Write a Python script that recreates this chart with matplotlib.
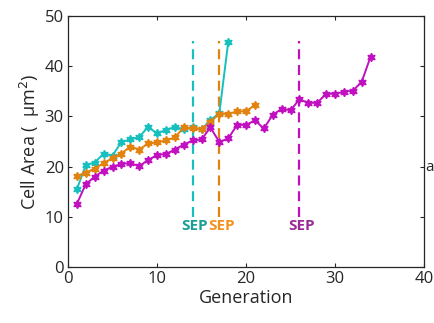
"""
Cell area across generations for three lineages, with SEP markers.
"""
import matplotlib

matplotlib.use("Agg")
import matplotlib.pyplot as plt
import numpy as np

plt.rcParams["font.family"] = ["Open Sans", "DejaVu Sans"]

# cell area (um^2) per generation, one list per lineage
area_cyan = [15.5, 20.3, 20.8, 22.6, 22.2, 24.9, 25.4, 25.9, 27.9, 26.6,
             27.3, 27.9, 27.4, 27.8, 27.4, 29.3, 30.6, 44.8]
area_orange = [18.1, 18.8, 19.6, 20.7, 21.7, 22.6, 24.0, 23.4, 24.6, 24.8,
               25.2, 25.8, 27.8, 27.6, 27.5, 28.9, 30.5, 30.5, 31.0, 31.0, 32.3]
area_magenta = [12.6, 16.5, 18.0, 19.2, 20.0, 20.5, 20.7, 20.1, 21.3, 22.3,
                22.5, 23.4, 24.4, 25.2, 25.4, 27.8, 24.9, 25.6, 28.3, 28.3,
                29.2, 27.6, 30.3, 31.5, 31.2, 33.4, 32.7, 32.7, 34.5, 34.5,
                34.9, 35.1, 36.9, 41.9]

# generation at which each lineage hits SEP
sep_gen = [14, 17, 26]
sep_span = (10, 45)
sep_text_y = 8.2

line_colors = ["#17bfbf", "#e2820f", "#c010c0"]
text_colors = ["#1a9e96", "#f5901e", "#9a2a98"]

fig = plt.figure(figsize=(4.34, 3.23), dpi=100)
ax = fig.add_axes([0.1567, 0.1734, 0.8203, 0.7771])

hexstar = (6, 1, 0)
for y, c in zip([area_cyan, area_orange, area_magenta], line_colors):
    g = np.arange(1, len(y) + 1)
    ax.plot(g, y, color=c, lw=1.4, marker=hexstar, ms=6, mec=c, mfc=c, zorder=3)

for gen, c, tc in zip(sep_gen, line_colors, text_colors):
    ax.plot([gen, gen], sep_span, color=c, lw=1.6, ls=(0, (4.5, 2.6)), zorder=2)
    ax.text(gen + 0.25, sep_text_y, "SEP", color=tc, fontsize=11,
            fontweight="bold", ha="center", va="center")

ax.set_xlim(0, 40)
ax.set_ylim(0, 50)
ax.set_xticks(np.arange(0, 41, 10))
ax.set_yticks(np.arange(0, 51, 10))
ax.tick_params(direction="in", length=3, width=0.8, labelsize=12,
               top=True, right=True, colors="#262626", pad=3)
for s in ax.spines.values():
    s.set_linewidth(0.9)
    s.set_color("#262626")

ax.set_xlabel("Generation", fontsize=13, color="#262626", labelpad=1)
ax.set_ylabel(r"Cell Area (  μm$^2$)", fontsize=13, color="#262626", labelpad=2)

# stray label just right of the axes
fig.text(0.979, 0.48, "a", fontsize=11, color="#262626", va="center")

fig.savefig("out.png", dpi=100)
